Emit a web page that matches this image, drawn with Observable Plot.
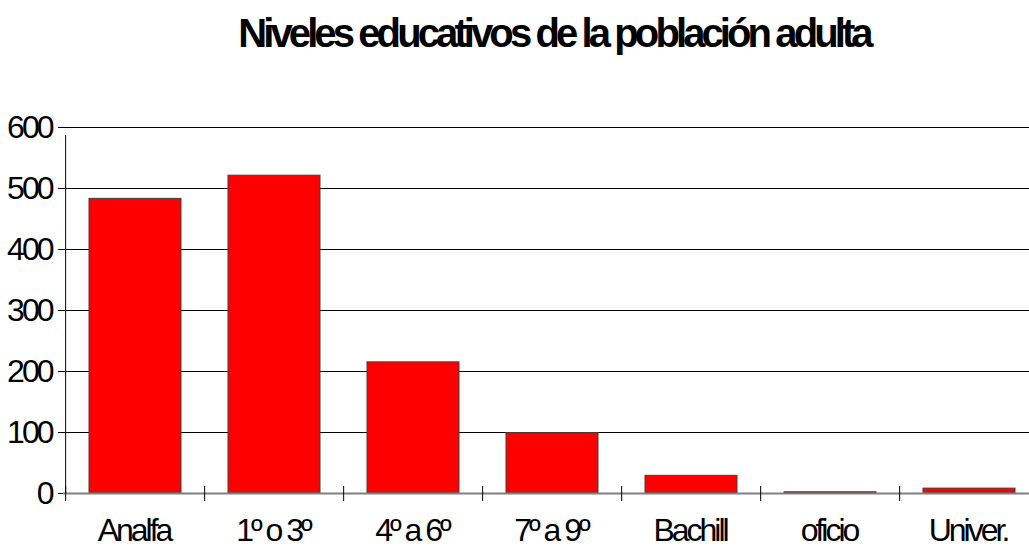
<!DOCTYPE html>
<html><head><meta charset="utf-8">
<script src="https://cdn.jsdelivr.net/npm/d3@7"></script>
<script src="https://cdn.jsdelivr.net/npm/@observablehq/plot@0.6"></script>
<style>
html,body{margin:0;padding:0;background:#fff;overflow:hidden;width:1029px;height:549px;}
#title{position:absolute;left:0;top:10px;width:1108px;text-align:center;font-family:'Liberation Sans',Arial,sans-serif;font-weight:bold;font-size:40px;letter-spacing:-3.9px;line-height:46px;color:#000;white-space:nowrap;}
#chart{position:absolute;left:0;top:100px;}
#chart svg text{letter-spacing:-3px;}
</style></head><body>
<div id="title">Niveles educativos de la población adulta</div>
<div id="chart"></div>
<script>
const categories = ["Analfa", "1º o 3º", "4º a 6º", "7º a 9º", "Bachill", "oficio", "Univer."];
const values = [483, 521, 215, 99, 29, 2, 8];
const yTicks = [0, 100, 200, 300, 400, 500, 600];

const data = categories.map((c, i) => ({cat: c, value: values[i]}));
const xRange = [63, 1041];
const step = (xRange[1] - xRange[0]) / categories.length;
const font = "'Liberation Sans',Arial,sans-serif";

const chart = Plot.plot({
  width: 1029,
  height: 449,
  marginTop: 27,
  marginBottom: 56,
  marginLeft: 63,
  marginRight: 0,
  style: {fontFamily: font, fontSize: "32px", background: "white", color: "black", overflow: "visible"},
  x: {type: "band", domain: categories, range: xRange, paddingInner: 0.335, paddingOuter: 0.1675, label: null},
  y: {domain: [0, 600], label: null},
  marks: [
    Plot.gridY(yTicks, {stroke: "black", strokeOpacity: 1}),
    Plot.barY(data, {x: "cat", y: "value", fill: "#ff0000", stroke: "#404040", strokeWidth: 1}),
    Plot.ruleY([0], {stroke: "#808080", strokeWidth: 2}),
    Plot.ruleX([categories[0]], {x: d => d, y1: 0, y2: 600, insetBottom: -8, dx: -step / 2, stroke: "black"}),
    Plot.ruleX(categories, {x: d => d, y1: 0, y2: 0, insetTop: -7, insetBottom: -8, dx: -step / 2, stroke: "black"}),
    Plot.axisY(yTicks, {tickSize: 5, tickPadding: 7, fontSize: 32, tickFormat: d => String(d), stroke: "black"}),
    Plot.axisX(categories, {tickSize: 0, tickPadding: 25, fontSize: 32, dx: -1.5})
  ]
});
document.getElementById("chart").appendChild(chart);
</script>
</body></html>
